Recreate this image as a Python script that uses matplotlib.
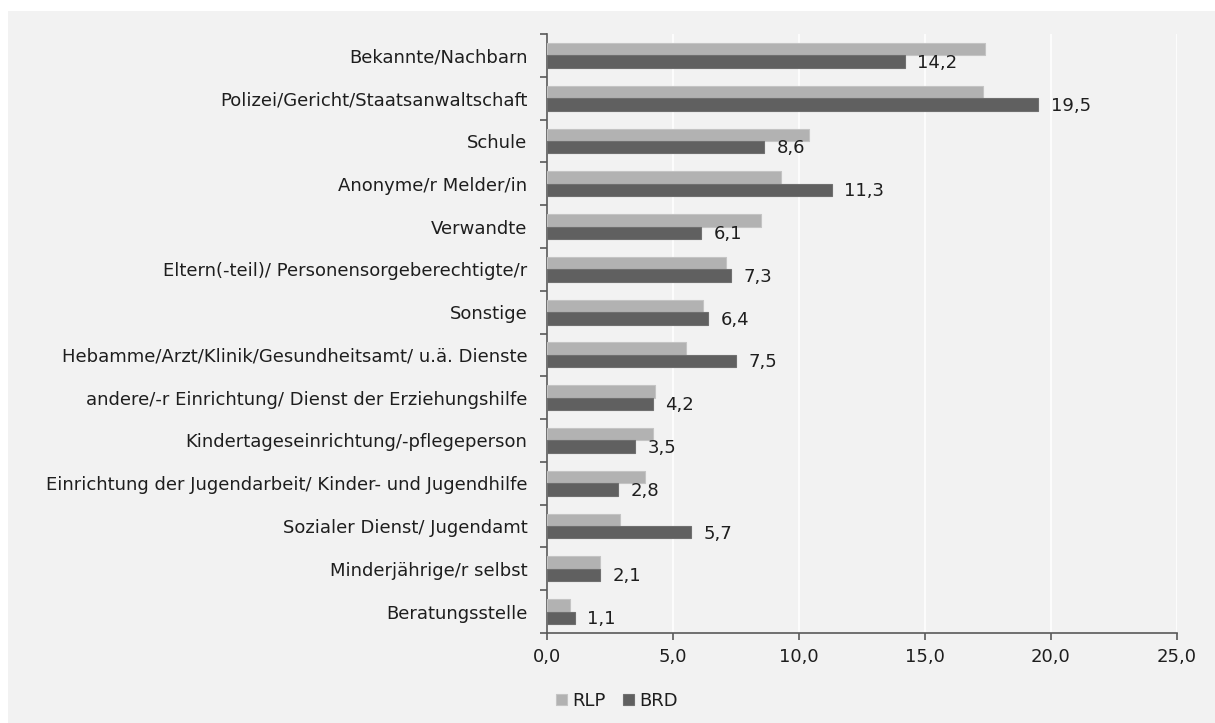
import matplotlib.pyplot as plt
from matplotlib.patches import Rectangle
import numpy as np

plt.rcParams['font.family'] = ['DejaVu Sans']

# Data (percent)
categories = [
    "Bekannte/Nachbarn",
    "Polizei/Gericht/Staatsanwaltschaft",
    "Schule",
    "Anonyme/r Melder/in",
    "Verwandte",
    "Eltern(-teil)/ Personensorgeberechtigte/r",
    "Sonstige",
    "Hebamme/Arzt/Klinik/Gesundheitsamt/ u.ä. Dienste",
    "andere/-r Einrichtung/ Dienst der Erziehungshilfe",
    "Kindertageseinrichtung/-pflegeperson",
    "Einrichtung der Jugendarbeit/ Kinder- und Jugendhilfe",
    "Sozialer Dienst/ Jugendamt",
    "Minderjährige/r selbst",
    "Beratungsstelle",
]
rlp = [17.4, 17.3, 10.4, 9.3, 8.5, 7.1, 6.2, 5.5, 4.3, 4.2, 3.9, 2.9, 2.1, 0.9]
brd = [14.2, 19.5, 8.6, 11.3, 6.1, 7.3, 6.4, 7.5, 4.2, 3.5, 2.8, 5.7, 2.1, 1.1]
series_names = ["RLP", "BRD"]
xticks = [0, 5, 10, 15, 20, 25]

light = "#b2b2b2"
dark = "#606060"
axis_col = "#595959"
txt_col = "#1e1e1e"
fs = 13

fig = plt.figure(figsize=(12.15, 7.23), dpi=100)
fig.patch.set_facecolor("white")
fig.patches.append(Rectangle((8 / 1215, 0), 1 - 8 / 1215, 1 - 11 / 723,
                             transform=fig.transFigure, facecolor="#f2f2f2",
                             edgecolor="none", zorder=-10))

ax = fig.add_axes([547 / 1215, 1 - 633 / 723, 630 / 1215, 599 / 723])
ax.set_facecolor("none")

y = np.arange(len(categories))
h = 0.29
ax.barh(y - h / 2, rlp, height=h, color=light, edgecolor="#c4c4c4", linewidth=0.8,
        label=series_names[0], zorder=3)
ax.barh(y + h / 2, brd, height=h, color=dark, edgecolor="#707070", linewidth=0.8,
        label=series_names[1], zorder=3)

for yi, v in zip(y, brd):
    ax.text(v + 0.5, yi + h / 2 + 0.03, f"{v:.1f}".replace(".", ","),
            va="center", ha="left", fontsize=fs, color=txt_col, zorder=4)

ax.set_ylim(len(categories) - 0.5, -0.5)
ax.set_xlim(0, 25)
ax.set_xticks(xticks)
ax.set_xticklabels([f"{t:.1f}".replace(".", ",") for t in xticks], fontsize=fs,
                   color=txt_col)
ax.set_yticks(y)
ax.set_yticklabels(categories, fontsize=fs, color=txt_col)
ax.set_yticks(np.arange(-0.5, len(categories), 1), minor=True)
ax.tick_params(axis="y", which="major", length=0, pad=14)
ax.tick_params(axis="y", which="minor", length=5, color=axis_col, width=1.2)
ax.tick_params(axis="x", length=5, color=axis_col, width=1.2, pad=6)

ax.grid(axis="x", color="white", linewidth=1.2, zorder=0)
for s in ["top", "right"]:
    ax.spines[s].set_visible(False)
for s in ["left", "bottom"]:
    ax.spines[s].set_color(axis_col)
    ax.spines[s].set_linewidth(1.2)

leg = fig.legend(loc="center", bbox_to_anchor=(617 / 1215, 1 - 701 / 723), ncol=2,
                 frameon=False, fontsize=fs, handlelength=0.6, handleheight=0.6,
                 handletextpad=0.3, columnspacing=1.0)
for t in leg.get_texts():
    t.set_color(txt_col)

fig.savefig("out.png", dpi=100)
